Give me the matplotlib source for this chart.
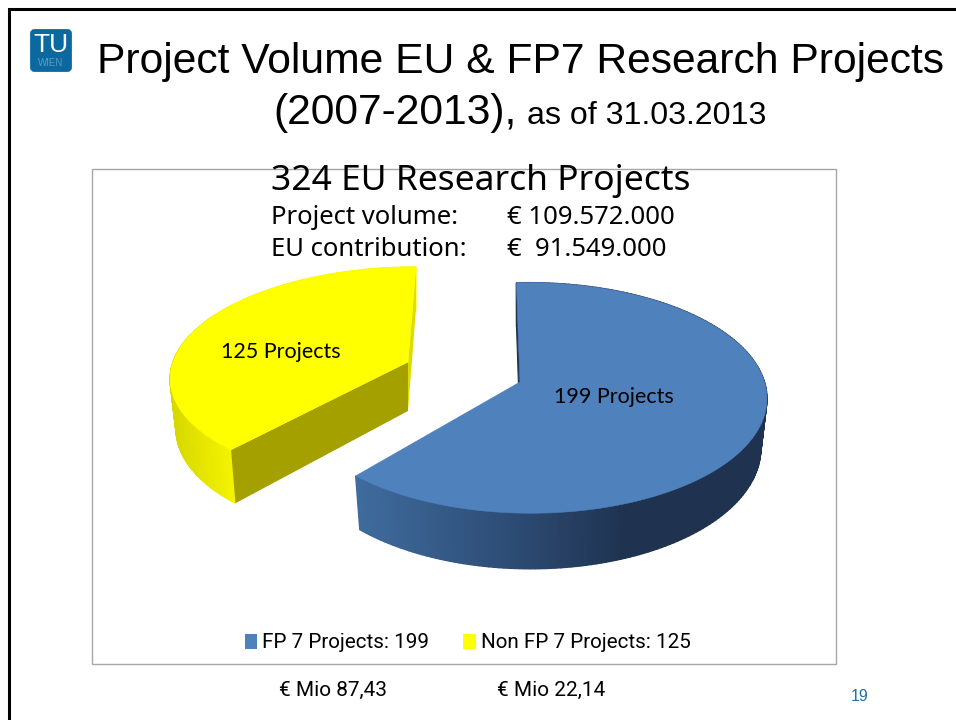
import numpy as np
import matplotlib
matplotlib.use("Agg")
import matplotlib.pyplot as plt
from matplotlib.patches import Polygon, Rectangle, FancyBboxPatch, Patch
from matplotlib.colors import to_rgb

# ---- data ----
categories = ["FP 7 Projects", "Non FP 7 Projects"]
project_counts = [199, 125]
slice_labels = ["199 Projects", "125 Projects"]
volumes = ["€ Mio 87,43", "€ Mio 22,14"]
title_line1 = "Project Volume EU & FP7 Research Projects"
title_line2a = "(2007-2013),"
title_line2b = "as of 31.03.2013"
chart_title = "324 EU Research Projects"
info_labels = ["Project volume:", "EU contribution:"]
info_values = ["€ 109.572.000", "€  91.549.000"]
page_number = "19"

# ---- style ----
top_colors = ["#4f81bd", "#ffff00"]
face_colors = ["#1f3552", "#a3a000"]
sliver_colors = ["#1f3552", "#dcdc00"]
side_stops = [
    [(353, "#3f6c9e"), (520, "#2c4a72"), (625, "#1f3350"), (770, "#1f3350")],
    [(170, "#d8d800"), (235, "#f6f600")],
]
# each slice: apex x, apex y, c, a, b, E, skew, rotation
geom = [
    (520, 382, 234.7, 113.0, 0.138, 0.04, 0.0, -1.0),
    (408, 362, 235.0, 106.2, 0.118, 0.0, -0.084, 0.0),
]


def project(g, deg):
    cx, cy, c, a, b, E, s, rot = g
    t = np.radians(np.asarray(deg, float) + rot)
    x, y = np.sin(t), np.cos(t)
    den = 1 + b * y - E * x
    sy = -a * y / den
    sx = c * x / den + s * sy
    return cx + sx, cy + sy


def drop(g, px, py):
    cx, cy = g[0], g[1]
    rel = np.maximum(py - cy, -100)
    d = 49 + 0.05 * rel
    return cx + 0.975 * (px - cx), py + d


def side_color(stops, x):
    xs = [p[0] for p in stops]
    cols = np.array([to_rgb(p[1]) for p in stops])
    return tuple(np.interp(x, xs, cols[:, i]) for i in range(3))


fig = plt.figure(figsize=(9.56, 7.2), dpi=100)
ax = fig.add_axes([0, 0, 1, 1])
ax.set_xlim(0, 956)
ax.set_ylim(720, 0)
ax.axis("off")

# slide border
ax.plot([9, 9, 956], [720, 9, 9], color="black", lw=2.2, solid_capstyle="butt",
        solid_joinstyle="miter", zorder=1)

# logo
ax.add_patch(FancyBboxPatch((31.5, 30.5), 39, 40, boxstyle="round,pad=0,rounding_size=3",
                            mutation_aspect=1, fc="#0b69a0", ec="#0b69a0", lw=2, zorder=2))
ax.text(51, 52, "TU", color="white", fontsize=19, family="Liberation Sans",
        ha="center", va="baseline", zorder=3)
ax.text(51, 66, "WIEN", color="#5b9cc2", fontsize=7, family="Liberation Sans",
        ha="center", va="baseline", zorder=3)

# chart frame
ax.add_patch(Rectangle((92.5, 168.5), 744, 495, fc="white", ec="#a6a6a6", lw=1, zorder=1))

# pie slices, angles from the values
total = sum(project_counts)
bounds = np.cumsum([0] + project_counts) / total * 360.0
for order in [1, 0]:
    g = geom[order]
    a0, a1 = bounds[order], bounds[order + 1]
    cx, cy = g[0], g[1]
    ang = np.linspace(a0, a1, 200)
    px, py = project(g, ang)
    qx, qy = drop(g, px, py)
    base = 4 + 2 * (1 - order)
    # outer rim, strip by strip
    for i in range(len(ang) - 1):
        xm = 0.5 * (px[i] + px[i + 1])
        col = side_color(side_stops[order], xm)
        ax.add_patch(Polygon([(px[i], py[i]), (px[i + 1], py[i + 1]),
                              (qx[i + 1], qy[i + 1]), (qx[i], qy[i])],
                             closed=True, fc=col, ec=col, lw=1.0, zorder=base))
    # cut faces
    ax_, ay_ = drop(g, np.array([cx]), np.array([cy]))
    if order == 0:
        ax.add_patch(Polygon([(cx, cy), (px[0], py[0]), (qx[0], qy[0]), (ax_[0], ay_[0])],
                             closed=True, fc=sliver_colors[0], ec=sliver_colors[0], lw=0.8,
                             zorder=base + 0.5))
    else:
        ax.add_patch(Polygon([(cx, cy), (px[0], py[0]), (qx[0], qy[0]), (ax_[0], ay_[0])],
                             closed=True, fc=face_colors[1], ec="none", zorder=base + 0.5))
        ax.add_patch(Polygon([(cx, cy), (px[-1], py[-1]), (qx[-1], qy[-1]), (ax_[0], ay_[0])],
                             closed=True, fc=sliver_colors[1], ec="none", zorder=base + 0.5))
    # top surface
    ax.add_patch(Polygon(np.column_stack([np.r_[cx, px], np.r_[cy, py]]), closed=True,
                         fc=top_colors[order], ec=top_colors[order], lw=0.4,
                         zorder=base + 0.8))

# slice labels
lab_pos = [(614, 403), (281, 358)]
for s, (x, y) in zip(slice_labels, lab_pos):
    ax.text(x, y, s, fontsize=15.5, family="Lato", ha="center", va="baseline",
            color="black", zorder=8)

# titles
ax.text(520.5, 73, title_line1, fontsize=30.7, family="Liberation Sans", ha="center",
        va="baseline", color="black", zorder=8)
ax.text(273, 124, title_line2a, fontsize=30.7, family="Liberation Sans", ha="left",
        va="baseline", color="black", zorder=8)
ax.text(527, 124, title_line2b, fontsize=23.1, family="Liberation Sans", ha="left",
        va="baseline", color="black", zorder=8)
ax.text(271, 190, chart_title, fontsize=25.5, family="Noto Sans", ha="left",
        va="baseline", color="black", zorder=8)
for y, lab, val in zip([224, 256], info_labels, info_values):
    ax.text(271, y, lab, fontsize=18.5, family="Noto Sans", ha="left", va="baseline", zorder=8)
    ax.text(507, y, val, fontsize=18.5, family="Noto Sans", ha="left", va="baseline", zorder=8)

# legend
handles = [Patch(fc=top_colors[i], ec="none",
                 label=f"{categories[i]}: {project_counts[i]}") for i in range(2)]
leg = ax.legend(handles=handles, ncol=2, frameon=False, loc="center",
                bbox_to_anchor=(467.5, 643), bbox_transform=ax.transData,
                prop={"family": "Roboto", "size": 14.9}, handlelength=0.6,
                handleheight=0.7, handletextpad=0.25, columnspacing=1.64, borderpad=0)
leg.set_zorder(8)

# below the chart
for x, s in zip([279, 497], volumes):
    ax.text(x, 696, s, fontsize=15, family="Roboto", ha="left", va="baseline", zorder=8)
ax.text(859.5, 701, page_number, fontsize=11.5, family="Liberation Sans", color="#1f6fa5",
        ha="center", va="baseline", zorder=8)

fig.savefig("out.png", dpi=100)
